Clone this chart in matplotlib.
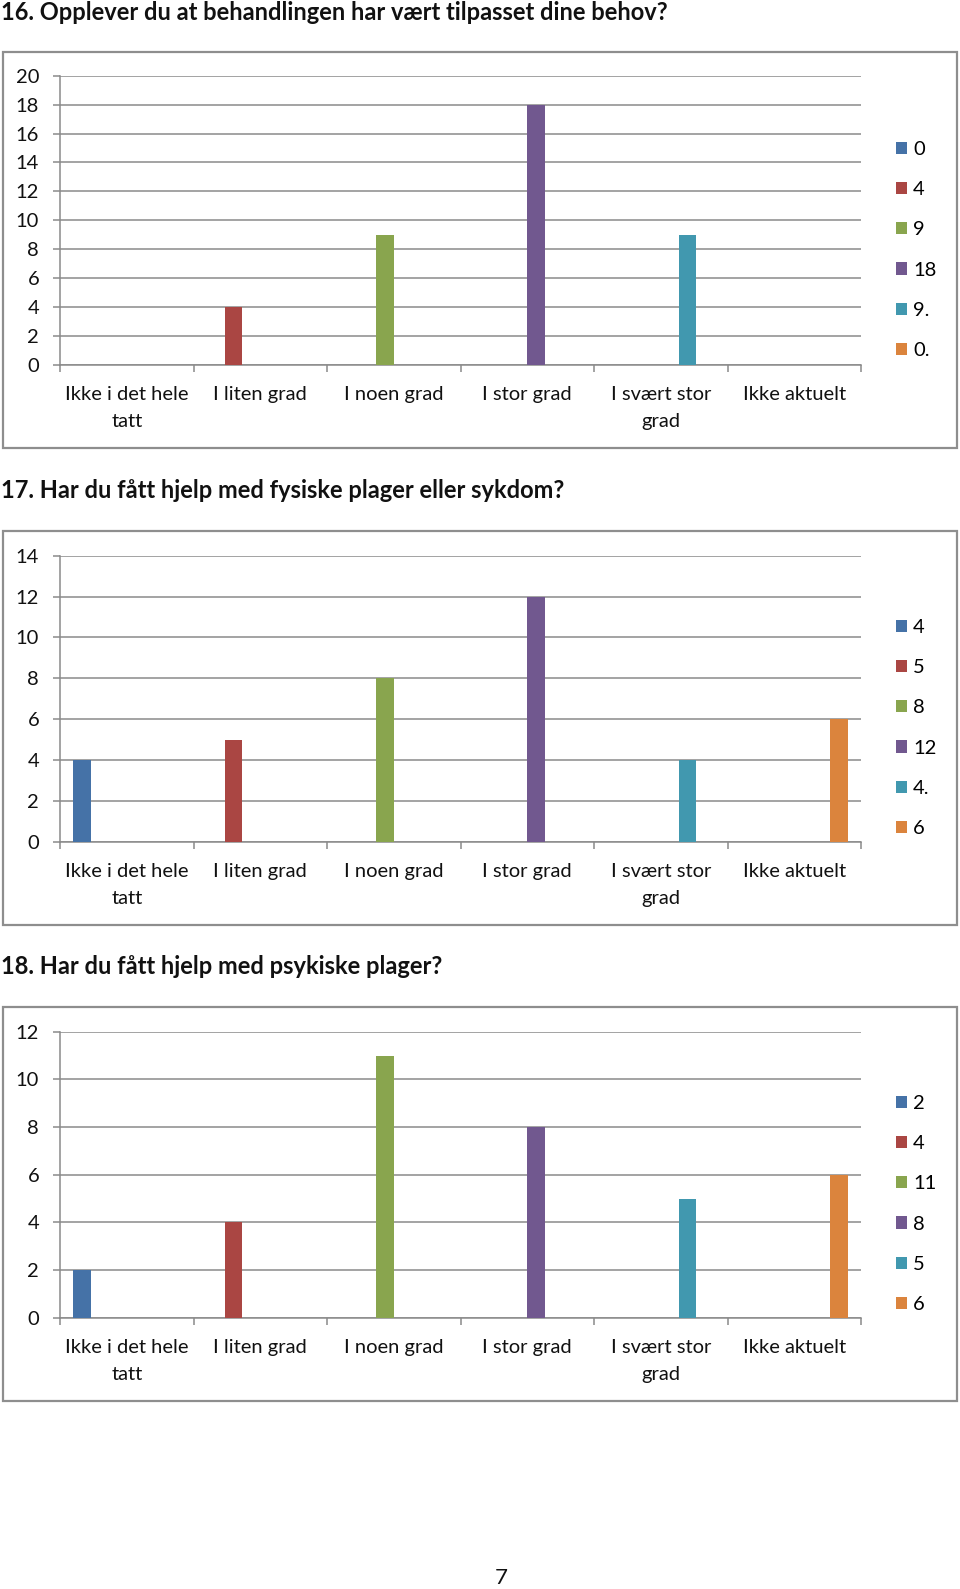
import matplotlib
matplotlib.use("Agg")
import matplotlib.pyplot as plt
from matplotlib.patches import Rectangle, Patch
import numpy as np

plt.rcParams['font.family'] = ['Lato', 'DejaVu Sans']

categories = ["Ikke i det hele\ntatt", "I liten grad", "I noen grad", "I stor grad",
              "I svært stor\ngrad", "Ikke aktuelt"]
colors = ["#4572A7", "#AA4643", "#89A54E", "#71588F", "#4198AF", "#DB843D"]

titles = ["16. Opplever du at behandlingen har vært tilpasset dine behov?",
          "17. Har du fått hjelp med fysiske plager eller sykdom?",
          "18. Har du fått hjelp med psykiske plager?"]

values_q16 = [0, 4, 9, 18, 9, 0]
values_q17 = [4, 5, 8, 12, 4, 6]
values_q18 = [2, 4, 11, 8, 5, 6]

legend_q16 = ["0", "4", "9", "18", "9.", "0."]
legend_q17 = ["4", "5", "8", "12", "4.", "6"]
legend_q18 = ["2", "4", "11", "8", "5", "6"]

ymax_list = [20, 14, 12]

W, H = 960, 1589
fig = plt.figure(figsize=(W / 100, H / 100), dpi=100)

GRID = "#8a8a8a"
FRAME = "#8e8e8e"
TXT = "#111111"
FS = 14.5

charts = [
    dict(vals=values_q16, leg=legend_q16, ymax=ymax_list[0], title=titles[0],
         title_y=12, box=(3, 52, 957, 448), ytop=75.7, y0=365),
    dict(vals=values_q17, leg=legend_q17, ymax=ymax_list[1], title=titles[1],
         title_y=491, box=(3, 531, 957, 925), ytop=555.7, y0=841.7),
    dict(vals=values_q18, leg=legend_q18, ymax=ymax_list[2], title=titles[2],
         title_y=967, box=(3, 1007, 957, 1401), ytop=1031.7, y0=1317.7),
]

x_left, x_right = 60, 861
n = len(categories)
bw = 1 / 7.5

def fx(px):
    return px / W

def fy(py):
    return 1 - py / H

for c in charts:
    fig.text(fx(1), fy(c["title_y"]), c["title"], fontsize=17, fontweight="bold",
             va="center", ha="left", color=TXT)
    bx0, by0, bx1, by1 = c["box"]
    fig.patches.append(Rectangle((fx(bx0), fy(by1)), fx(bx1 - bx0), (by1 - by0) / H,
                                 transform=fig.transFigure, fill=False,
                                 edgecolor=FRAME, linewidth=1.6))
    ax = fig.add_axes([fx(x_left), fy(c["y0"]), fx(x_right - x_left),
                       (c["y0"] - c["ytop"]) / H])
    xs = np.arange(n)
    for i in range(n):
        series = [c["vals"][i] if j == i else 0 for j in range(n)]
        ax.bar(xs + (i - 2.5) * bw, series, width=bw, color=colors[i],
               linewidth=0, zorder=3, label=c["leg"][i])
    ax.set_xlim(-0.5, n - 0.5)
    ax.set_ylim(0, c["ymax"])
    ax.set_yticks(np.arange(0, c["ymax"] + 1, 2))
    ax.yaxis.grid(True, color=GRID, linewidth=1.1, zorder=0)
    ax.set_axisbelow(True)
    for s in ["top", "right"]:
        ax.spines[s].set_visible(False)
    for s in ["left", "bottom"]:
        ax.spines[s].set_color(GRID)
        ax.spines[s].set_linewidth(1.1)
    ax.set_xticks(np.arange(-0.5, n, 1.0))
    ax.set_xticklabels([])
    ax.set_xticks(xs, minor=True)
    ax.set_xticklabels(categories, minor=True, fontsize=FS, linespacing=1.72,
                       color=TXT)
    ax.tick_params(axis="x", which="major", length=5, color=GRID, width=1.1)
    ax.tick_params(axis="x", which="minor", length=0, pad=15)
    ax.tick_params(axis="y", length=5, color=GRID, width=1.1, pad=10,
                   labelsize=FS, labelcolor=TXT)
    handles = [Patch(facecolor=colors[i], edgecolor="none") for i in range(n)]
    ax.legend(handles, c["leg"], loc="center left",
              bbox_to_anchor=(fx(896), fy((by0 + by1) / 2)),
              bbox_transform=fig.transFigure, frameon=False, fontsize=FS,
              handlelength=0.55, handleheight=0.55, handletextpad=0.3,
              labelspacing=1.15, borderpad=0, borderaxespad=0)

fig.text(fx(501), fy(1578), "7", fontsize=16, ha="center", va="center", color=TXT)

fig.savefig("out.png", dpi=100, facecolor="white")
